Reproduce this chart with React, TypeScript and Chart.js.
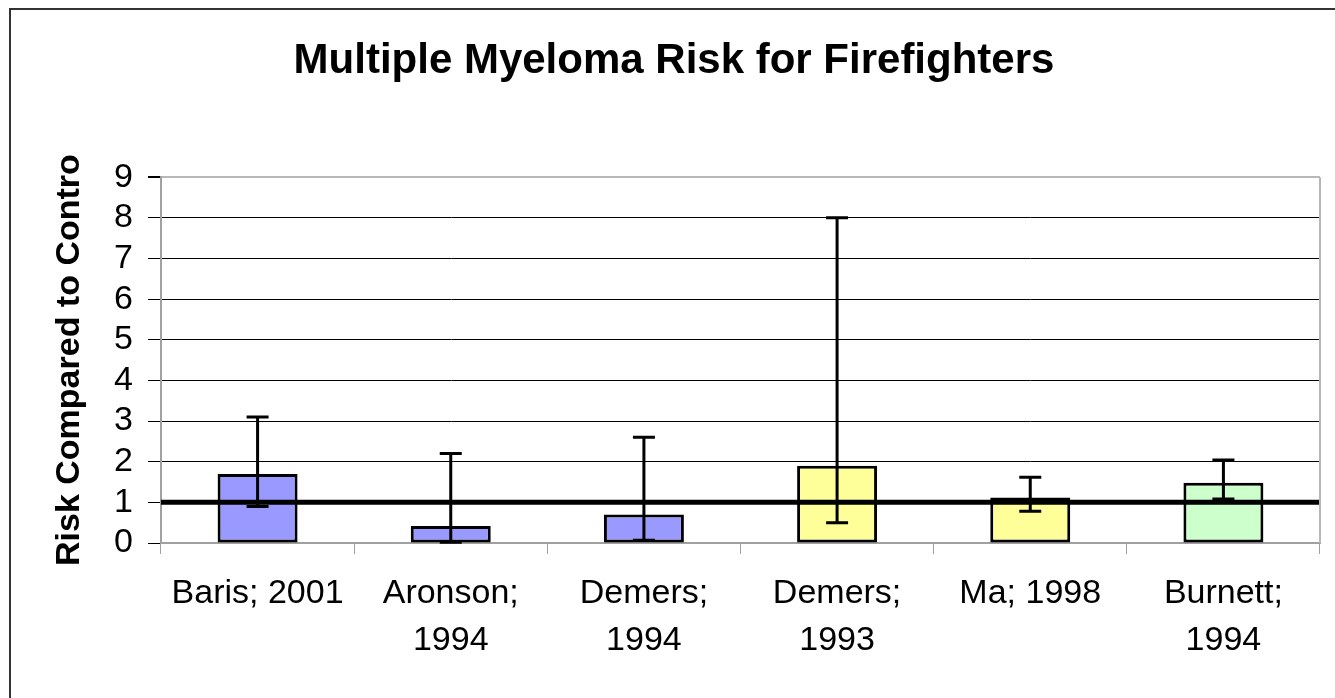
import React, { useEffect, useRef } from "react";
import { Chart, registerables } from "chart.js";

Chart.register(...registerables);

const TITLE = "Multiple Myeloma Risk for Firefighters";
const Y_TITLE = "Risk Compared to Contro";
const categories: string[][] = [
  ["Baris; 2001"],
  ["Aronson;", "1994"],
  ["Demers;", "1994"],
  ["Demers;", "1993"],
  ["Ma; 1998"],
  ["Burnett;", "1994"],
];
const risk = [1.7, 0.42, 0.7, 1.9, 1.12, 1.48];
const lowerCI = [0.9, 0.02, 0.07, 0.5, 0.78, 1.08];
const upperCI = [3.1, 2.2, 2.6, 8.0, 1.62, 2.04];
const barColors = ["#9999FF", "#9999FF", "#9999FF", "#FFFF99", "#FFFF99", "#CCFFCC"];
const REFERENCE_VALUE = 1;
const Y_MIN = 0;
const Y_MAX = 9;

const FONT = "'Liberation Sans', Arial, sans-serif";

const framePlugin = {
  id: "frame",
  beforeDraw(chart: any) {
    const { ctx } = chart;
    ctx.save();
    ctx.fillStyle = "#fff";
    ctx.fillRect(0, 0, chart.width, chart.height);
    ctx.strokeStyle = "#333";
    ctx.lineWidth = 2;
    ctx.beginPath();
    ctx.moveTo(10, chart.height + 5);
    ctx.lineTo(10, 9);
    ctx.lineTo(chart.width + 5, 9);
    ctx.stroke();
    ctx.restore();
  },
  afterDraw(chart: any) {
    const { ctx, chartArea } = chart;
    ctx.save();
    ctx.strokeStyle = "#b8b8b8";
    ctx.lineWidth = 2;
    ctx.beginPath();
    ctx.moveTo(chartArea.right, chartArea.top);
    ctx.lineTo(chartArea.right, chartArea.bottom);
    ctx.stroke();
    ctx.restore();
  },
};

const errorPlugin = {
  id: "errorBarsAndRef",
  afterDatasetsDraw(chart: any) {
    const { ctx, chartArea, scales } = chart;
    const yScale = scales.y;
    ctx.save();
    // reference line
    const yRef = yScale.getPixelForValue(REFERENCE_VALUE);
    ctx.strokeStyle = "#000";
    ctx.lineWidth = 5;
    ctx.beginPath();
    ctx.moveTo(chartArea.left, yRef);
    ctx.lineTo(chartArea.right, yRef);
    ctx.stroke();
    // error bars
    const meta = chart.getDatasetMeta(0);
    ctx.lineWidth = 3;
    ctx.lineCap = "butt";
    meta.data.forEach((bar: any, i: number) => {
      const x = bar.x;
      const yl = yScale.getPixelForValue(lowerCI[i]);
      const yu = yScale.getPixelForValue(upperCI[i]);
      const cap = 11;
      ctx.beginPath();
      ctx.moveTo(x, yl);
      ctx.lineTo(x, yu);
      ctx.moveTo(x - cap, yu);
      ctx.lineTo(x + cap, yu);
      ctx.moveTo(x - cap, yl);
      ctx.lineTo(x + cap, yl);
      ctx.stroke();
    });
    ctx.restore();
  },
};

export default function App() {
  const ref = useRef<HTMLCanvasElement | null>(null);
  useEffect(() => {
    if (!ref.current) return;
    Chart.defaults.color = "#000";
    const chart = new Chart(ref.current, {
      type: "bar",
      data: {
        labels: categories,
        datasets: [
          {
            data: risk,
            backgroundColor: barColors,
            borderColor: "#000",
            borderWidth: 3,
            borderSkipped: false,
            barPercentage: 0.414,
            categoryPercentage: 1,
          },
        ],
      },
      options: {
        responsive: false,
        animation: false,
        layout: { padding: { left: 28, right: 15, top: 0, bottom: 0 } },
        plugins: {
          legend: { display: false },
          tooltip: { enabled: false },
          title: {
            display: true,
            text: TITLE,
            color: "#000",
            font: { family: FONT, size: 42, weight: "bold", lineHeight: 1.2 },
            padding: { top: 36.5, bottom: 90.3 },
          },
        },
        scales: {
          x: {
            grid: {
              display: true,
              drawOnChartArea: false,
              drawTicks: true,
              tickLength: 11,
              color: "#a0a0a0",
              lineWidth: 1,
            },
            border: { display: true, color: "#a0a0a0", width: 2 },
            ticks: {
              color: "#000",
              font: { family: FONT, size: 34, lineHeight: 47 / 34 },
              padding: 16,
              maxRotation: 0,
              autoSkip: false,
            },
            afterFit(scale: any) {
              scale.height = 155;
            },
          },
          y: {
            min: Y_MIN,
            max: Y_MAX,
            grid: {
              color: (c: any) => (c.tick && (c.tick.value === Y_MAX) ? "#b8b8b8" : "#000"),
              tickColor: "#000",
              lineWidth: (c: any) => (c.tick && c.tick.value === Y_MAX ? 2 : 1),
              tickLength: 13,
            },
            border: { display: true, color: "#a0a0a0", width: 2 },
            ticks: {
              stepSize: 1,
              autoSkip: false,
              color: "#000",
              font: { family: FONT, size: 34 },
              padding: 15,
            },
            title: {
              display: true,
              text: Y_TITLE,
              color: "#000",
              font: { family: FONT, size: 34, weight: "bold", lineHeight: 1.2 },
              padding: { top: 21.6, bottom: 0 },
            },
            afterFit(scale: any) {
              scale.width = 133;
            },
          },
        },
      },
      plugins: [framePlugin, errorPlugin],
    });
    return () => chart.destroy();
  }, []);
  return (
    <div style={{ position: "fixed", left: 0, top: 0, width: 1335, height: 698, background: "#fff" }}>
      <canvas ref={ref} width={1335} height={698} />
    </div>
  );
}
